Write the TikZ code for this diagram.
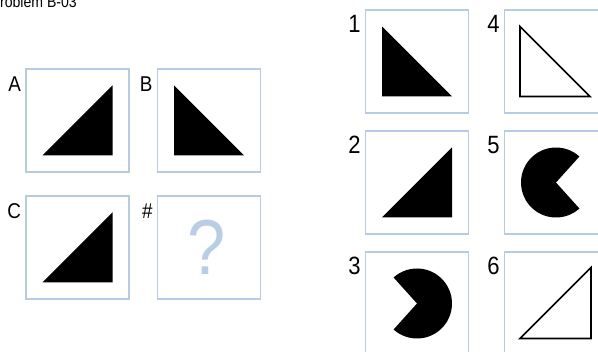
\documentclass[tikz,border=0pt]{standalone}
\usepackage{fontspec}
\setmainfont{Liberation Sans}[FakeStretch=0.88]
\usepackage{tikz}
\definecolor{pzframe}{HTML}{B7CAE6}
\definecolor{pzask}{HTML}{BACDE6}
\definecolor{pzink}{HTML}{000000}
\tikzset{
  cell/.style={draw=pzframe,line width=1.5pt,minimum size=103pt,inner sep=0pt},
  tag/.style={anchor=base east,inner sep=0pt,text=pzink},
}

\begin{document}
\begin{tikzpicture}[x=1pt,y=-1pt]
  \useasboundingbox (0,0) rectangle (598,352);
  \node[anchor=base west,inner sep=0pt,font=\fontsize{16}{16}\selectfont] (title) at (-9.5,7.3) {Problem B-03};
  % question panel
  \foreach \n/\t/\x/\y in {A/A/77.5/120.5,B/B/209/120.5,C/C/77.5/247.5,Q/\#/209/247.5}{
    \node[cell] (\n) at (\x,\y) {};
    \node[tag,font=\fontsize{21.4}{21.4}\selectfont] (l\n) at ([shift={(-4pt,-23.7pt)}]\n.north west) {\t};
  }
  % answer panel
  \foreach \n/\x/\y in {1/417/61.5,2/417/182.5,3/417/303.5,4/556/61.5,5/556/182.5,6/556/303.5}{
    \node[cell] (P\n) at (\x,\y) {};
    \node[tag,font=\fontsize{25}{25}\selectfont] (lP\n) at ([shift={(-4pt,-23.5pt)}]P\n.north west) {\n};
  }
  % right angle bottom right
  \foreach \n in {A,C,P2}{\fill[pzink] ([shift={(-35pt,-35pt)}]\n.center) -- ++(70pt,0pt) -- ++(0pt,70pt) -- cycle;}
  % right angle bottom left
  \foreach \n in {B,P1}{\fill[pzink] ([shift={(-35pt,35pt)}]\n.center) -- ++(0pt,-70pt) -- ++(70pt,0pt) -- cycle;}
  \draw[pzink,line width=1.6pt,line join=miter] ([shift={(-36pt,35pt)}]P4.center) -- ++(0pt,-70pt) -- ++(70pt,0pt) -- cycle;
  \draw[pzink,line width=1.6pt,line join=miter] ([shift={(-36pt,-35pt)}]P6.center) -- ++(71pt,0pt) -- ++(0pt,71pt) -- cycle;
  % pacman shapes
  \fill[pzink] (P5.center) -- ++(48:35pt) arc[start angle=48,end angle=312,radius=35pt] -- cycle;
  \fill[pzink] (P3.center) -- ++(-132:35pt) arc[start angle=-132,end angle=132,radius=35pt] -- cycle;
  \node[inner sep=0pt,text=pzask,font=\fontsize{78}{78}\selectfont] (ask) at ([xshift=-2.5pt]Q.center) {?};
\end{tikzpicture}
\end{document}
